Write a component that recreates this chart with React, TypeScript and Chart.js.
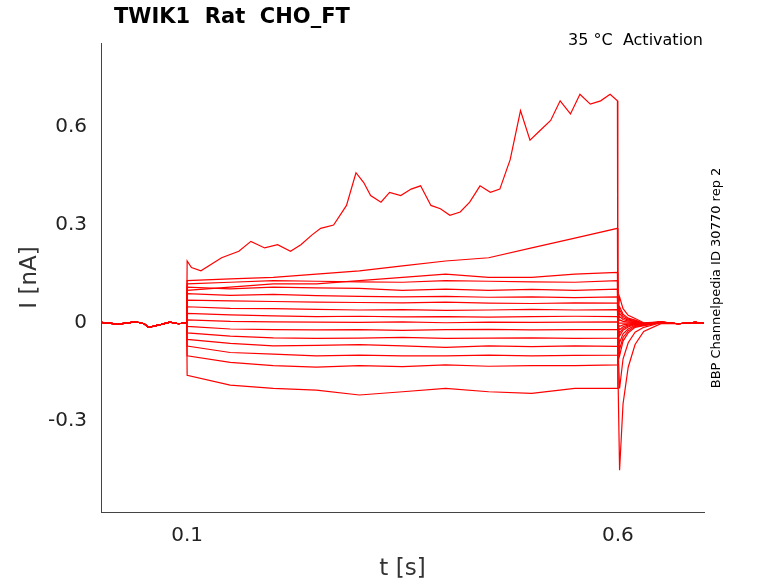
import React, { useEffect, useRef } from "react";
import { Chart, registerables } from "chart.js";
Chart.register(...registerables);

const preT = [0, 0.02, 0.04, 0.05, 0.055, 0.06, 0.07, 0.08, 0.09, 0.0995];
const preV = [0.002, -0.003, 0.004, -0.002, -0.012, -0.01, -0.004, 0.003, -0.002, 0.001];
const stepT = [0.1, 0.15, 0.2, 0.25, 0.3, 0.35, 0.4, 0.45, 0.5, 0.55, 0.5995];
const flatLevels = [
  [0.13, 0.135, 0.14, 0.15, 0.16, 0.175, 0.19, 0.2, 0.23, 0.26, 0.29],
  [0.1, 0.11, 0.12, 0.12, 0.13, 0.14, 0.15, 0.14, 0.14, 0.15, 0.155],
  [0.12, 0.125, 0.13, 0.128, 0.126, 0.125, 0.13, 0.128, 0.126, 0.125, 0.13],
  [0.11, 0.105, 0.11, 0.108, 0.106, 0.1, 0.104, 0.1, 0.103, 0.1, 0.104],
  [0.09, 0.085, 0.088, 0.084, 0.082, 0.08, 0.082, 0.079, 0.08, 0.078, 0.08],
  [0.07, 0.068, 0.066, 0.064, 0.063, 0.062, 0.064, 0.061, 0.06, 0.062, 0.061],
  [0.05, 0.045, 0.044, 0.042, 0.04, 0.041, 0.039, 0.04, 0.042, 0.04, 0.041],
  [0.03, 0.025, 0.022, 0.02, 0.021, 0.019, 0.02, 0.018, 0.02, 0.021, 0.02],
  [0.01, 0.005, 0.004, 0.003, 0.002, 0.004, 0.001, 0.003, 0.002, 0.003, 0.004],
  [-0.01, -0.018, -0.02, -0.021, -0.02, -0.022, -0.02, -0.019, -0.021, -0.02, -0.02],
  [-0.03, -0.04, -0.045, -0.047, -0.046, -0.044, -0.047, -0.046, -0.045, -0.047, -0.046],
  [-0.05, -0.062, -0.07, -0.068, -0.066, -0.07, -0.074, -0.07, -0.072, -0.07, -0.071],
  [-0.07, -0.09, -0.095, -0.1, -0.098, -0.1, -0.1, -0.098, -0.1, -0.099, -0.098],
  [-0.1, -0.12, -0.13, -0.135, -0.13, -0.133, -0.128, -0.132, -0.13, -0.13, -0.128],
  [-0.16, -0.19, -0.2, -0.205, -0.22, -0.21, -0.2, -0.21, -0.215, -0.2, -0.2],
];
const flatTails = [-0.2, -0.1, -0.08, -0.06, -0.04, -0.03, -0.02, -0.01, 0.0, 0.01, 0.02, 0.03, 0.04, 0.05, 0.08];
const topT = [0.1, 0.105, 0.116, 0.14, 0.16, 0.174, 0.19, 0.205, 0.22, 0.232, 0.245, 0.255, 0.27, 0.285, 0.296, 0.305, 0.313, 0.325, 0.335, 0.348, 0.36, 0.371, 0.383, 0.394, 0.405, 0.417, 0.428, 0.44, 0.452, 0.463, 0.475, 0.487, 0.498, 0.51, 0.522, 0.533, 0.545, 0.556, 0.568, 0.58, 0.591, 0.5995];
const topV = [0.19, 0.17, 0.16, 0.2, 0.22, 0.25, 0.23, 0.24, 0.22, 0.24, 0.27, 0.29, 0.3, 0.36, 0.46, 0.43, 0.39, 0.37, 0.4, 0.39, 0.41, 0.42, 0.36, 0.35, 0.33, 0.34, 0.37, 0.42, 0.4, 0.41, 0.5, 0.65, 0.56, 0.59, 0.62, 0.68, 0.64, 0.7, 0.67, 0.68, 0.7, 0.68];
const topTail = -0.45;
const postT = [0.6, 0.602, 0.606, 0.612, 0.62, 0.63, 0.65, 0.67, 0.69, 0.7];
const postShape = [0.3, 1, 0.55, 0.3, 0.15, 0.05, 0.01, 0, 0, 0];
const postNoise = [0, 0, 0, 0, 0.002, -0.003, 0.003, -0.002, 0.002, -0.001];

function trace(ts: number[], vs: number[], tail: number) {
  const pts: { x: number; y: number }[] = [];
  preT.forEach((t, i) => pts.push({ x: t, y: preV[i] }));
  ts.forEach((t, i) => pts.push({ x: t, y: vs[i] }));
  postT.forEach((t, i) => pts.push({ x: t, y: tail * postShape[i] + postNoise[i] }));
  return pts;
}

export default function App() {
  const ref = useRef<HTMLCanvasElement>(null);
  useEffect(() => {
    const datasets = [
      ...flatLevels.map((lv, i) => ({ data: trace(stepT, lv, flatTails[i]) })),
      { data: trace(topT, topV, topTail) },
    ].map((d) => ({ ...d, borderColor: "#ff0000", borderWidth: 1.2, pointRadius: 0, tension: 0 }));
    const font = "'DejaVu Sans', sans-serif";
    const chart = new Chart(ref.current!, {
      type: "line",
      data: { datasets },
      options: {
        animation: false,
        responsive: false,
        layout: { padding: { top: 43, right: 74, left: 0, bottom: 0 } },
        plugins: { legend: { display: false }, tooltip: { enabled: false } },
        scales: {
          x: {
            type: "linear", min: 0, max: 0.7,
            afterBuildTicks: (s: any) => { s.ticks = [{ value: 0.1 }, { value: 0.6 }]; },
            afterFit: (s: any) => { s.height = 71; },
            ticks: { font: { family: font, size: 20 }, color: "#222", padding: 12, callback: (v: any) => String(v) },
            grid: { display: false, drawTicks: false },
            border: { color: "#444" },
            title: { display: true, text: "t [s]", font: { family: font, size: 23 }, color: "#333", padding: 0 },
          },
          y: {
            type: "linear", min: -0.578, max: 0.857,
            afterBuildTicks: (s: any) => { s.ticks = [-0.3, 0, 0.3, 0.6].map((value) => ({ value })); },
            afterFit: (s: any) => { s.width = 101; },
            ticks: { font: { family: font, size: 20 }, color: "#222", padding: 14, callback: (v: any) => String(v) },
            grid: { display: false, drawTicks: false },
            border: { color: "#444" },
            title: { display: true, text: "I [nA]", font: { family: font, size: 23 }, color: "#333", padding: { top: 16, bottom: 0 } },
          },
        },
      },
      plugins: [{
        id: "texts",
        afterDraw(c: any) {
          const ctx = c.ctx;
          ctx.save();
          ctx.fillStyle = "#000";
          ctx.font = `bold 21px ${font}`;
          ctx.textBaseline = "middle";
          ctx.textAlign = "left";
          ctx.fillText("TWIK1  Rat  CHO_FT", 114, 18);
          ctx.font = `16px ${font}`;
          ctx.textAlign = "right";
          ctx.fillText("35 °C  Activation", 703, 41);
          ctx.translate(717, 278);
          ctx.rotate(-Math.PI / 2);
          ctx.textAlign = "center";
          ctx.font = `13px ${font}`;
          ctx.fillText("BBP Channelpedia ID 30770 rep 2", 0, 0);
          ctx.restore();
        },
      }],
    });
    return () => chart.destroy();
  }, []);
  return <canvas ref={ref} width={778} height={583} style={{ position: "fixed", left: 0, top: 0 }} />;
}
